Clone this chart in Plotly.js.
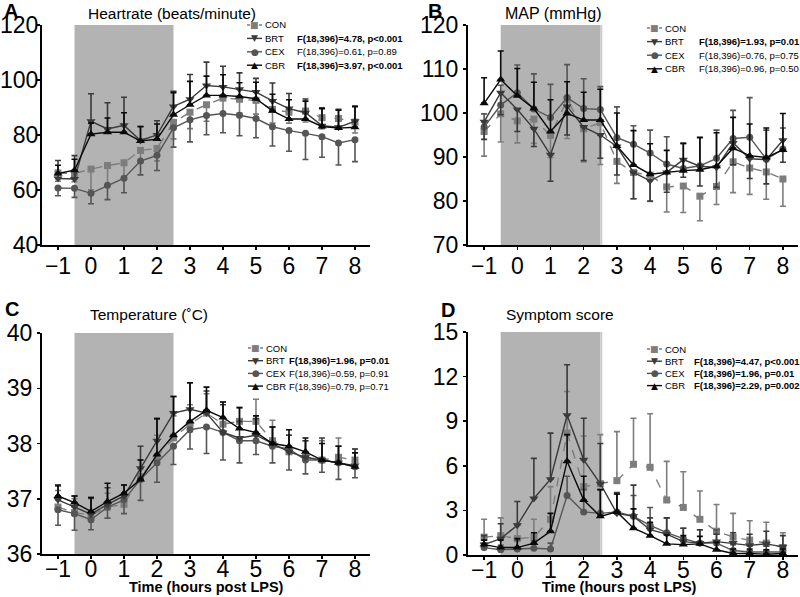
<!DOCTYPE html>
<html>
<head>
<meta charset="utf-8">
<script src="https://cdn.plot.ly/plotly-3.0.1.min.js"></script>
<style>
  html, body { margin: 0; padding: 0; background: #fff; }
  #chart { width: 800px; height: 597px; }
</style>
</head>
<body>
<div id="chart"></div>
<script>
// -- Data ---------------------------------------------------------------------
var TIME = [-1, -0.5, 0, 0.5, 1, 1.5, 2, 2.5, 3, 3.5, 4, 4.5, 5, 5.5, 6, 6.5, 7, 7.5, 8];
var SERIES = ['CON', 'BRT', 'CEX', 'CBR'];
var X_TICKS = [-1, 0, 1, 2, 3, 4, 5, 6, 7, 8];

// A: heart rate
var HR_CON = [66.2, 66, 67.6, 68.9, 69.9, 74.4, 75.1, 84.6, 88.3, 91, 93.4, 93, 92.6, 89.3, 88.3, 88.7, 86.3, 86, 84.7];
var HR_BRT = [64.2, 64, 85, 82.2, 83.5, 78, 80, 90.4, 93, 98, 97.5, 96.6, 95.6, 92.4, 89.6, 88.1, 83.4, 82.8, 85];
var HR_CEX = [60.7, 60.6, 58.8, 61.7, 64.3, 70.5, 72.6, 82.6, 85.5, 87.1, 87.8, 87.2, 86, 83, 81.6, 80.6, 79.4, 77.1, 78.3];
var HR_CBR = [66, 67.2, 80.3, 81, 81, 77.8, 78.5, 87.4, 91, 94.4, 94.4, 94, 93.2, 88.8, 85.8, 85.8, 83.1, 82.5, 82.8];
var HR_CON_ERR = [3, 3, 7.5, 7, 6, 4.5, 4.5, 6, 6, 6, 6, 5, 5, 5, 4, 4, 4, 3.5, 4];
var HR_BRT_ERR = [6.5, 8.5, 10, 9.5, 10.2, 5.2, 5.2, 5.5, 9, 8.5, 7.5, 6, 5, 6.5, 5.5, 5, 6.5, 6.5, 5.5];
var HR_CEX_ERR = [2.8, 3.3, 3.8, 5.2, 5.3, 5, 5.5, 7, 8, 7, 7, 7.5, 7, 7, 7.5, 9.5, 7.5, 8, 8];
var HR_CBR_ERR = [3, 4, 4, 5.2, 7.1, 5.2, 5.5, 8, 8.5, 7, 7.5, 5, 6, 6, 7, 6.5, 6.5, 6.5, 7.5];

// B: mean arterial pressure
var MAP_CON = [95.8, 99.8, 98.2, 98.6, 94.9, 103, 96.4, 97.8, 89, 86.5, 85.9, 83.2, 83.4, 81.1, 83.3, 88.9, 87.5, 86.6, 85];
var MAP_BRT = [98, 104.6, 100.8, 96.4, 90.5, 101.5, 96.8, 95, 92.4, 86.5, 84.6, 86.5, 89.4, 87.9, 87.6, 93.2, 89.6, 89.4, 93.8];
var MAP_CEX = [96.8, 101.8, 104.6, 100.9, 99, 103.5, 101, 100.8, 94.4, 92.9, 90.9, 88.4, 87.4, 88, 89.7, 94.2, 94.5, 89.5, 91.8];
var MAP_CBR = [102.2, 107.6, 103.9, 101, 95.8, 99.9, 98.4, 98.4, 92.5, 88.2, 86.1, 86.5, 86.9, 87.1, 87.9, 92, 90.3, 89.9, 91.6];
var MAP_CON_ERR = [5.6, 6.4, 5, 5.5, 5, 8.8, 7.5, 9.5, 5, 6, 6, 5.7, 6, 5.6, 4.1, 7, 6, 6.2, 6.2];
var MAP_BRT_ERR = [4, 5, 5, 4, 6, 6.5, 7.6, 5.3, 6.5, 6, 4.6, 4.5, 4, 4.5, 4.5, 5, 4.5, 5.5, 5];
var MAP_CEX_ERR = [3, 4.5, 6.3, 8, 7.5, 7.5, 6.8, 5.2, 7, 4.2, 5.2, 6.2, 5.7, 6.5, 6.4, 6.4, 9, 6.6, 4.8];
var MAP_CBR_ERR = [5.8, 6.5, 6.2, 6, 7.2, 7.2, 6.3, 7, 7.5, 7.8, 6.9, 5, 6.2, 7.3, 7.6, 7, 7.2, 6.7, 8.3];

// C: temperature
var TMP_CON = [36.85, 36.75, 36.7, 36.85, 36.9, 37.4, 37.75, 38.1, 38.35, 38.55, 38.35, 38.4, 38.4, 38.05, 37.85, 37.75, 37.7, 37.75, 37.7];
var TMP_BRT = [36.98, 36.85, 36.72, 36.9, 37.05, 37.55, 38.05, 38.55, 38.62, 38.55, 38.2, 38.1, 38.15, 38.0, 37.85, 37.75, 37.7, 37.65, 37.6];
var TMP_CEX = [36.8, 36.73, 36.62, 36.85, 36.98, 37.35, 37.65, 37.95, 38.25, 38.3, 38.2, 38.05, 38.05, 37.95, 37.9, 37.7, 37.7, 37.65, 37.58];
var TMP_CBR = [37.05, 36.93, 36.77, 36.95, 37.1, 37.35, 37.8, 38.15, 38.4, 38.6, 38.47, 38.27, 38.2, 38.0, 37.95, 37.85, 37.7, 37.65, 37.58];
var TMP_CON_ERR = [0.3, 0.25, 0.3, 0.25, 0.2, 0.3, 0.4, 0.4, 0.35, 0.35, 0.4, 0.25, 0.4, 0.37, 0.3, 0.3, 0.35, 0.35, 0.2];
var TMP_BRT_ERR = [0.25, 0.2, 0.3, 0.3, 0.2, 0.4, 0.4, 0.3, 0.48, 0.4, 0.5, 0.3, 0.3, 0.3, 0.3, 0.3, 0.4, 0.3, 0.3];
var TMP_CEX_ERR = [0.28, 0.3, 0.18, 0.2, 0.25, 0.38, 0.35, 0.33, 0.35, 0.48, 0.5, 0.4, 0.25, 0.3, 0.38, 0.25, 0.22, 0.3, 0.2];
var TMP_CBR_ERR = [0.2, 0.12, 0.25, 0.33, 0.15, 0.35, 0.65, 0.7, 0.7, 0.42, 0.28, 0.38, 0.3, 0.3, 0.3, 0.25, 0.3, 0.3, 0.25];

// D: symptom score
var SYM_CON = [1.2, 1.3, 1.1, 1.2, 2.4, 8.2, 4.6, 4.8, 5.0, 6.1, 5.9, 3.7, 3.2, 2.4, 1.6, 1.2, 1.0, 0.8, 0.5];
var SYM_BRT = [0.7, 1.1, 2.0, 3.8, 5.1, 9.4, 6.4, 4.8, 2.8, 2.6, 1.7, 1.4, 0.9, 0.8, 0.9, 0.8, 0.65, 0.75, 0.55];
var SYM_CEX = [0.5, 0.35, 0.4, 0.45, 0.4, 4.0, 2.9, 2.8, 2.9, 2.6, 2.0, 1.5, 1.1, 0.8, 0.8, 0.3, 0.2, 0.2, 0.2];
var SYM_CBR = [0.7, 0.5, 0.5, 0.8, 1.6, 6.3, 3.7, 2.6, 2.9, 1.8, 1.3, 0.75, 0.7, 0.75, 0.35, 0.1, 0.1, 0.05, 0.1];
var SYM_CON_ERR = [1.2, 1.2, 1.0, 1.2, 2.2, 2.8, 3.4, 3.3, 3.3, 3.1, 3.6, 2.6, 2.4, 1.9, 1.8, 1.6, 1.3, 1.4, 1.0];
var SYM_BRT_ERR = [0.6, 1.0, 1.6, 2.7, 3.1, 3.4, 2.8, 2.7, 1.4, 2.1, 0.8, 1.1, 0.9, 0.9, 0.5, 0.7, 0.75, 0.85, 0.75];
var SYM_CEX_ERR = [0.3, 0.3, 0.6, 0.5, 0.4, 1.3, 1.5, 1.6, 1.2, 1.4, 1.2, 1.0, 0.7, 0.9, 0.9, 0.4, 0.4, 0.4, 0.3];
var SYM_CBR_ERR = [0.3, 0.5, 0.6, 0.7, 1.2, 1.8, 1.6, 1.8, 1.2, 1.3, 0.9, 0.6, 0.6, 0.5, 0.5, 0.3, 0.3, 0.3, 0.3];

var HR_STATS  = ['F(18,396)=4.78, p<0.001', 'F(18,396)=0.61, p=0.89', 'F(18,396)=3.97, p<0.001'];
var MAP_STATS = ['F(18,396)=1.93, p=0.01', 'F(18,396)=0.76, p=0.75', 'F(18,396)=0.96, p=0.50'];
var TMP_STATS = ['F(18,396)=1.96, p=0.01', 'F(18,396)=0.59, p=0.91', 'F(18,396)=0.79, p=0.71'];
var SYM_STATS = ['F(18,396)=4.47, p<0.001', 'F(18,396)=1.96, p=0.01', 'F(18,396)=2.29, p=0.002'];

// -- Styles -------------------------------------------------------------------
var W = 800, H = 597;
var FONT = 'Liberation Sans, Arial, sans-serif';
var SHADE = '#b3b3b3';
var STYLE = {
  CON: { color: '#7d7d7d', dash: 'dash', symbol: 'square',        size: 7, glyph: '\u25A0' },
  BRT: { color: '#3a3a3a', dash: 'solid', symbol: 'triangle-down', size: 8, glyph: '\u25BC' },
  CEX: { color: '#555555', dash: 'solid', symbol: 'circle',        size: 7, glyph: '\u25CF' },
  CBR: { color: '#0a0a0a', dash: 'solid', symbol: 'triangle-up',   size: 8, glyph: '\u25B2' }
};

// pixel -> paper helpers (margins are zero so paper == page)
function px(x) { return x / W; }
function py(y) { return 1 - y / H; }

function zeros(n) { var a = []; for (var i = 0; i < n; i++) a.push(0); return a; }

// dirs: 'up' or 'down' per series -- the original shows one-sided bars
function panelTraces(ax, vals, errs, dirs) {
  var order = [0, 2, 1, 3]; // CON, CEX, BRT, CBR (CBR on top)
  return order.map(function (i) {
    var name = SERIES[i], st = STYLE[name];
    var up = dirs[i] === 'up';
    return {
      type: 'scatter', mode: 'lines+markers',
      x: TIME, y: vals[i], name: name,
      xaxis: 'x' + ax, yaxis: 'y' + ax,
      showlegend: false, cliponaxis: false,
      line: { color: st.color, width: 1.4, dash: st.dash },
      marker: { symbol: st.symbol, size: st.size, color: st.color },
      error_y: {
        type: 'data', symmetric: false,
        array: up ? errs[i] : zeros(errs[i].length),
        arrayminus: up ? zeros(errs[i].length) : errs[i],
        color: st.color, thickness: 1.6, width: 3
      }
    };
  });
}

var traces = []
  .concat(panelTraces('', [HR_CON, HR_BRT, HR_CEX, HR_CBR],
    [HR_CON_ERR, HR_BRT_ERR, HR_CEX_ERR, HR_CBR_ERR], ['down', 'up', 'down', 'up']))
  .concat(panelTraces('2', [MAP_CON, MAP_BRT, MAP_CEX, MAP_CBR],
    [MAP_CON_ERR, MAP_BRT_ERR, MAP_CEX_ERR, MAP_CBR_ERR], ['down', 'down', 'up', 'up']))
  .concat(panelTraces('3', [TMP_CON, TMP_BRT, TMP_CEX, TMP_CBR],
    [TMP_CON_ERR, TMP_BRT_ERR, TMP_CEX_ERR, TMP_CBR_ERR], ['up', 'up', 'down', 'up']))
  .concat(panelTraces('4', [SYM_CON, SYM_BRT, SYM_CEX, SYM_CBR],
    [SYM_CON_ERR, SYM_BRT_ERR, SYM_CEX_ERR, SYM_CBR_ERR], ['up', 'up', 'up', 'up']));

// -- Axes ---------------------------------------------------------------------
function xAxis(left, right, anchor, standoff) {
  return {
    domain: [px(left), px(right)], anchor: anchor,
    range: [-1.485, 8.455], tickvals: X_TICKS,
    showline: true, linewidth: 2, linecolor: '#000',
    ticks: 'outside', ticklen: 3, tickwidth: 1.5, tickcolor: '#000',
    ticklabelstandoff: standoff,
    showgrid: false, zeroline: false,
    tickfont: { family: FONT, size: 23, color: '#000' }
  };
}
function yAxis(top, bottom, anchor, range, dtick, standoff) {
  return {
    domain: [py(bottom), py(top)], anchor: anchor,
    range: range, dtick: dtick, tick0: range[0],
    showline: true, linewidth: 2, linecolor: '#000',
    ticks: 'outside', ticklen: 3, tickwidth: 1.5, tickcolor: '#000',
    ticklabelstandoff: standoff,
    showgrid: false, zeroline: false,
    tickfont: { family: FONT, size: 23, color: '#000' }
  };
}

var layout = {
  width: W, height: H,
  margin: { l: 0, r: 0, t: 0, b: 0 },
  paper_bgcolor: '#fff', plot_bgcolor: 'rgba(0,0,0,0)',
  showlegend: false,
  font: { family: FONT, color: '#000' },
  xaxis:  xAxis(42, 370, 'y', -4),
  yaxis:  yAxis(25, 245, 'x', [40, 120], 20, -6),
  xaxis2: xAxis(468, 798, 'y2', -4),
  yaxis2: yAxis(25, 245, 'x2', [70, 120], 10, 0),
  xaxis3: xAxis(42, 370, 'y3', -10),
  yaxis3: yAxis(333, 554, 'x3', [36, 40], 1, 0),
  xaxis4: xAxis(468, 798, 'y4', -10),
  yaxis4: yAxis(332, 555, 'x4', [0, 15], 3, 0),
  shapes: [],
  annotations: []
};

// LPS infusion window
['', '2', '3', '4'].forEach(function (ax) {
  layout.shapes.push({
    type: 'rect', layer: 'below', xref: 'x' + ax, yref: 'y' + ax + ' domain',
    x0: -0.5, x1: 2.5, y0: 0, y1: 1, fillcolor: SHADE, line: { width: 0 }
  });
});
['2', '4'].forEach(function (ax) {
  layout.shapes.push({
    type: 'rect', layer: 'below', xref: 'x' + ax, yref: 'y' + ax + ' domain',
    x0: 2.5, x1: 2.56, y0: 0, y1: 1, fillcolor: '#cbcbcb', line: { width: 0 }
  });
});

function addText(text, x, y, size, bold, anchor) {
  layout.annotations.push({
    text: bold ? '<b>' + text + '</b>' : text,
    xref: 'paper', yref: 'paper', x: px(x), y: py(y),
    xanchor: anchor || 'center', yanchor: 'middle',
    showarrow: false, font: { family: FONT, size: size, color: '#000' }
  });
}

// panel letters and titles
addText('A', 11, 11, 20, true);
addText('B', 435, 11, 20, true);
addText('C', 12, 309, 20, true);
addText('D', 448, 310, 20, true);
addText('Heartrate (beats/minute)', 172, 13, 15.5);
addText('MAP (mmHg)', 553, 13, 16);
addText('Temperature (\u02DAC)', 149, 314, 15.5);
addText('Symptom score', 560, 314, 15.5);
addText('Time (hours post LPS)', 207, 587, 14.5, true);
addText('Time (hours post LPS)', 619, 587, 14.5, true);

// hand-built legends (short keys, like the original)
function legendBlock(x0, y0, step, statX, stats, bold) {
  SERIES.forEach(function (name, i) {
    var st = STYLE[name], y = y0 + i * step;
    layout.shapes.push({
      type: 'line', xref: 'paper', yref: 'paper',
      x0: px(x0), x1: px(x0 + 15), y0: py(y), y1: py(y),
      line: { color: st.color, width: 1.4, dash: name === 'CON' ? 'dot' : 'solid' }
    });
    layout.annotations.push({
      text: st.glyph, xref: 'paper', yref: 'paper',
      x: px(x0 + 7.5), y: py(y), xanchor: 'center', yanchor: 'middle',
      showarrow: false, font: { family: 'DejaVu Sans', size: 9, color: st.color }
    });
    addText(name, x0 + 16, y, 9.5, false, 'left');
    if (i > 0) addText(stats[i - 1], statX, y, 9.5, bold[i - 1], 'left');
  });
}
legendBlock(247, 25, 13.4, 295, HR_STATS,  [true, false, true]);
legendBlock(647, 28, 13.6, 697, MAP_STATS, [true, false, false]);
legendBlock(248, 348, 12.7, 287, TMP_STATS, [true, false, false]);
legendBlock(647, 349, 12.2, 692, SYM_STATS, [true, true, true]);

Plotly.newPlot('chart', traces, layout, { displayModeBar: false, staticPlot: true });
</script>
</body>
</html>
